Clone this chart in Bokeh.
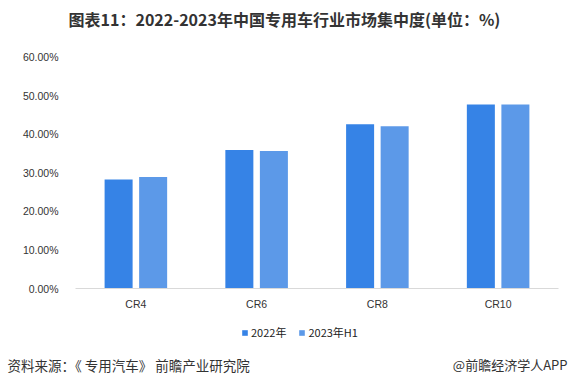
from bokeh.plotting import figure
from bokeh.models import (Range1d, FixedTicker, PrintfTickFormatter,
                          Legend, LegendItem, ColumnDataSource, Label)
from bokeh.transform import dodge
from bokeh.embed import file_html
from bokeh.resources import INLINE

# ---- data ----
categories = ["CR4", "CR6", "CR8", "CR10"]
series_names = ["2022年", "2023年H1"]
values_2022 = [28.3, 35.9, 42.6, 47.7]
values_2023h1 = [28.9, 35.7, 42.1, 47.7]
y_ticks = [0, 10, 20, 30, 40, 50, 60]

title_text = "图表11：2022-2023年中国专用车行业市场集中度(单位：%)"
source_text = "资料来源：《 专用汽车》 前瞻产业研究院"
brand_text = "@前瞻经济学人APP"

color_2022 = "#3683E6"
color_2023 = "#5C99E8"
CJK = "Noto Sans CJK SC"
LAT = "Liberation Sans"

# category slots: slot i spans [i, i+1]; centre at i + 0.5
cat_pos = [i + 0.5 for i in range(len(categories))]
src = ColumnDataSource(dict(x=cat_pos, cat=categories, v2022=values_2022, v2023=values_2023h1))

W, H = 568, 384
# the frame fills the canvas; ranges chosen so the plotting area sits at
# x: 75..558 px, y(0)=288 px, y(60)=56.7 px
px_per_cat = (558 - 75) / len(categories)
px_per_unit = (288 - 56.7) / 60
x_range = Range1d(-75 / px_per_cat, (W - 75) / px_per_cat)
y_range = Range1d(-(H - 288) / px_per_unit, 60 + 56.7 / px_per_unit)

p = figure(width=W, height=H, output_backend="svg", toolbar_location=None,
           x_range=x_range, y_range=y_range,
           min_border=0, min_border_left=0, min_border_right=0,
           min_border_top=0, min_border_bottom=0)
p.outline_line_color = None
p.grid.grid_line_color = None

r1 = p.vbar(x=dodge("x", -0.143), top="v2022", width=0.232,
            source=src, color=color_2022, line_color=None)
r2 = p.vbar(x=dodge("x", 0.143), top="v2023", width=0.232,
            source=src, color=color_2023, line_color=None)

# y axis, drawn at the left edge of the category area
yax = p.yaxis[0]
yax.fixed_location = 0
yax.bounds = (0, 60)
yax.ticker = FixedTicker(ticks=y_ticks)
yax.formatter = PrintfTickFormatter(format="%.2f%%")
yax.axis_line_color = None
yax.major_tick_line_color = None
yax.minor_tick_line_color = None
yax.major_label_standoff = 11
yax.major_label_text_font = LAT
yax.major_label_text_font_size = "10.5px"
yax.major_label_text_color = "#333333"

# x axis at y = 0
xax = p.xaxis[0]
xax.fixed_location = 0
xax.bounds = (0, len(categories))
xax.ticker = FixedTicker(ticks=cat_pos)
xax.major_label_overrides = {pos: c for pos, c in zip(cat_pos, categories)}
xax.axis_line_color = "#d9d9d9"
xax.axis_line_width = 1
xax.major_tick_line_color = None
xax.minor_tick_line_color = None
xax.major_label_standoff = 3
xax.major_label_text_font = LAT
xax.major_label_text_font_size = "10.5px"
xax.major_label_text_color = "#333333"

# legend
legend = Legend(items=[LegendItem(label=series_names[0], renderers=[r1]),
                       LegendItem(label=series_names[1], renderers=[r2])],
                location=(241, 44), orientation="horizontal",
                glyph_width=7, glyph_height=7, label_standoff=3, spacing=12,
                padding=0, margin=0, border_line_color=None, background_fill_alpha=0,
                label_text_font=CJK, label_text_font_size="11px",
                label_text_color="#222222", label_height=14)
p.add_layout(legend, "center")

# title and footer texts (screen units, origin bottom-left of the canvas-wide frame)
p.add_layout(Label(x=284, y=H - 18, x_units="screen", y_units="screen", text=title_text,
                   text_align="center", text_baseline="middle", text_font=CJK,
                   text_font_size="16px", text_font_style="bold", text_color="#333333"))
p.add_layout(Label(x=7, y=H - 364, x_units="screen", y_units="screen", text=source_text,
                   text_align="left", text_baseline="middle", text_font=CJK,
                   text_font_size="13.5px", text_color="#333333"))
p.add_layout(Label(x=567, y=H - 364, x_units="screen", y_units="screen", text=brand_text,
                   text_align="right", text_baseline="middle", text_font=CJK,
                   text_font_size="13px", text_color="#333333"))

open("out.html", "w").write(file_html(p, INLINE))
